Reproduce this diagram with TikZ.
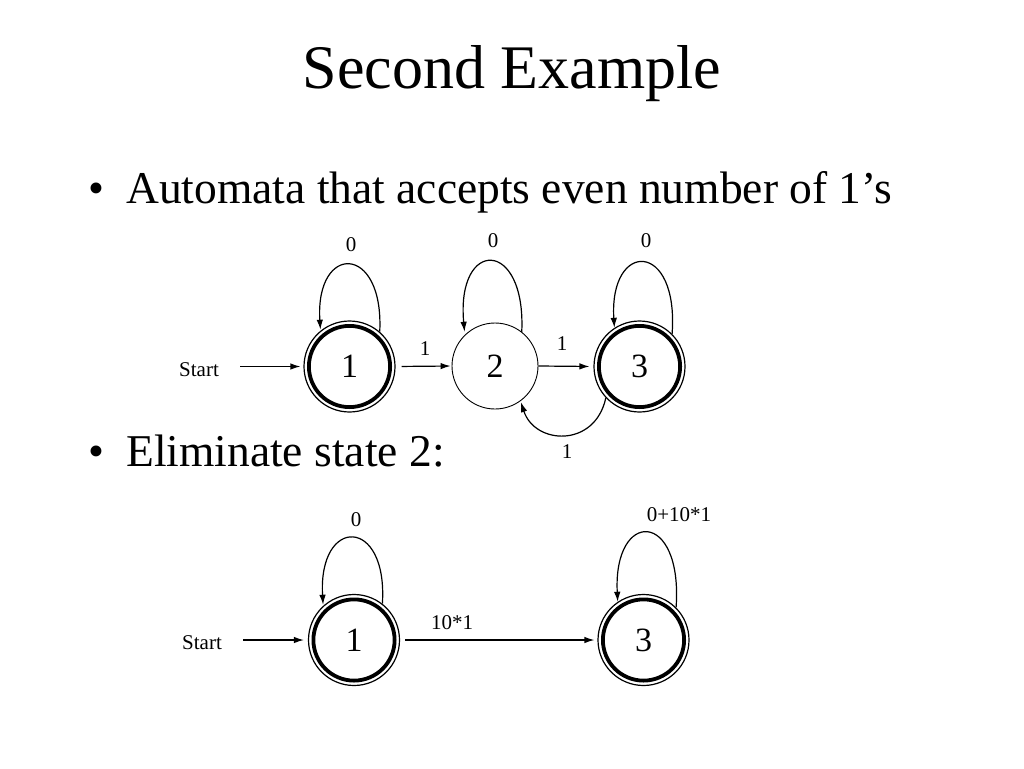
\documentclass[tikz,border=0pt]{standalone}
\usepackage{fontspec}
\setmainfont{Liberation Serif}
\usetikzlibrary{arrows.meta}
\begin{document}
\begin{tikzpicture}[x=1pt,y=-1pt,
  arr/.style={line width=1.2pt,-{Latex[length=10pt,width=6.5pt]}},
  loop/.style={line width=1.2pt,-{Latex[length=10pt,width=6.5pt]}},
  plainstate/.style={circle,draw,line width=0.9pt,minimum size=86pt,inner sep=0pt,font=\fontsize{34}{36}\selectfont},
  accstate/.style={circle,draw,line width=1.2pt,minimum size=91pt,inner sep=0pt,font=\fontsize{34}{36}\selectfont,
     path picture={\draw[line width=3.8pt] (path picture bounding box.center) circle (40.6pt);}},
  lbl/.style={inner sep=0pt,font=\fontsize{21}{24}\selectfont},
  title/.style={inner sep=0pt,anchor=base,font=\fontsize{62}{70}\selectfont},
  bullet/.style={inner sep=0pt,anchor=base west,font=\fontsize{45.5}{50}\selectfont}
]
\useasboundingbox (0,0) rectangle (1024,768);
\fill[white] (0,0) rectangle (1024,768);

% title and bullets
\node[title] (ttl) at (512,88) {Second Example};
\node[bullet] (b1) at (88,203) {•};
\node[bullet] (t1) at (126,203) {Automata that accepts even number of 1’s};
\node[bullet] (b2) at (88,466) {•};
\node[bullet] (t2) at (126,466) {Eliminate state 2:};

% ---- first automaton
\node[lbl] (st1) at (199,370) {Start};
\node[accstate] (a1) at (349.5,366.5) {1};
\node[plainstate] (a2) at (495,366) {2};
\node[accstate] (a3) at (639.5,366.5) {3};

\draw[arr,shorten <=21pt,shorten >=3pt] (st1.east |- a1.west) -- (a1.west);
\draw[arr,shorten <=6pt,shorten >=1pt] (a1.east) -- (a2.west);
\draw[arr,shorten >=4pt] (a2.east) -- (a3.west);
\draw[arr,shorten >=1pt] (a3.223) .. controls (595,448) and (535,445) .. (a2.306);

\draw[loop,shorten >=1pt] (a1.49) .. controls (384,243) and (315,243) .. (a1.129);
\draw[loop,shorten >=3pt] (a2.52) .. controls (526,238) and (456,238) .. (a2.134);
\draw[loop,shorten >=0pt] (a3.45) .. controls (679,240) and (609,240) .. (a3.123);

\node[lbl] (l11) at (351,245) {0};
\node[lbl] (l22) at (493,241) {0};
\node[lbl] (l33) at (646,241) {0};
\node[lbl] (l12) at (425,349) {1};
\node[lbl] (l23) at (562,344) {1};
\node[lbl] (l32) at (567,452) {1};

% ---- second automaton
\node[lbl] (st2) at (202,643) {Start};
\node[accstate] (c1) at (354,640) {1};
\node[accstate] (c3) at (643.5,640) {3};

\draw[arr,shorten <=21pt,shorten >=4pt] (st2.east |- c1.west) -- (c1.west);
\draw[arr,shorten <=5pt,shorten >=3pt] (c1.east) -- (c3.west);

\draw[loop,shorten >=1pt] (c1.52) .. controls (388,516) and (318,516) .. (c1.132);
\draw[loop,shorten >=0pt] (c3.45) .. controls (683,509) and (613,509) .. (c3.124);

\node[lbl] (m11) at (356,520) {0};
\node[lbl] (m33) at (679,515) {0+10*1};
\node[lbl] (m13) at (452,623) {10*1};
\end{tikzpicture}
\end{document}
